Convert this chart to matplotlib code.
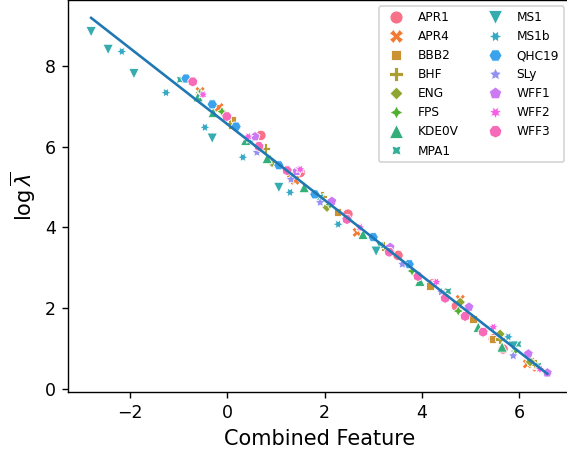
import numpy as np
import pandas as pd
import matplotlib
matplotlib.use("Agg")
import matplotlib.pyplot as plt
import seaborn as sns

eos_names = ["APR1", "APR4", "BBB2", "BHF", "ENG", "FPS", "KDE0V", "MPA1",
             "MS1", "MS1b", "QHC19", "SLy", "WFF1", "WFF2", "WFF3"]

# combined feature (x) and log lambda (y) for each EOS
feat = {
    "APR1": [0.69, 1.50, 2.48, 3.51, 4.21, 4.71, 5.47, 5.67],
    "APR4": [-0.56, -0.17, 1.39, 2.67, 4.79, 6.17, 6.37],
    "BBB2": [0.10, 1.29, 2.26, 4.17, 5.05, 5.45, 6.23],
    "BHF": [0.05, 0.78, 1.95, 3.20, 4.48, 5.61, 6.33],
    "ENG": [-0.05, 0.92, 2.05, 3.35, 4.79, 5.61, 6.23],
    "FPS": [-0.56, -0.11, 0.88, 2.11, 3.80, 4.75, 5.92],
    "KDE0V": [-0.60, -0.29, 0.38, 0.82, 1.58, 2.79, 3.96, 5.16, 5.65],
    "MPA1": [-0.97, 0.47, 1.91, 3.14, 4.54, 5.98, 6.39],
    "MS1": [-2.80, -2.45, -1.92, -0.31, 1.06, 3.06, 5.88],
    "MS1b": [-2.17, -1.26, -0.46, 0.32, 1.29, 2.28, 5.78],
    "QHC19": [-0.85, -0.31, 0.18, 1.06, 1.80, 3.00, 3.74],
    "SLy": [0.61, 1.31, 1.91, 2.73, 3.60, 4.40, 5.88],
    "WFF1": [0.57, 1.43, 2.15, 3.35, 4.97, 6.19, 6.58],
    "WFF2": [-0.50, 0.43, 1.50, 2.73, 4.30, 5.47, 6.43],
    "WFF3": [-0.71, -0.01, 0.65, 1.23, 2.46, 3.33, 3.92, 4.48, 4.89, 5.26],
}
loglam = {
    "APR1": [6.28, 5.36, 4.33, 3.31, 2.60, 2.05, 1.24, 0.99],
    "APR4": [7.37, 6.97, 5.17, 3.88, 2.22, 0.62, 0.54],
    "BBB2": [6.67, 5.32, 4.38, 2.55, 1.73, 1.24, 0.69],
    "BHF": [6.58, 5.96, 4.77, 3.54, 2.37, 1.24, 0.62],
    "ENG": [6.80, 5.61, 4.50, 3.41, 2.15, 1.36, 0.67],
    "FPS": [7.34, 6.87, 5.69, 4.57, 2.92, 1.93, 0.94],
    "KDE0V": [7.24, 6.85, 6.16, 5.71, 4.99, 3.83, 2.67, 1.53, 1.04],
    "MPA1": [7.66, 6.18, 4.75, 3.56, 2.42, 1.11, 0.57],
    "MS1": [8.85, 8.41, 7.81, 6.21, 4.99, 3.41, 1.06],
    "MS1b": [8.36, 7.34, 6.48, 5.74, 4.87, 4.08, 1.29],
    "QHC19": [7.69, 7.05, 6.50, 5.54, 4.82, 3.76, 3.09],
    "SLy": [5.86, 5.19, 4.62, 4.00, 3.09, 2.40, 0.82],
    "WFF1": [6.25, 5.39, 4.65, 3.51, 2.03, 0.87, 0.40],
    "WFF2": [7.29, 6.25, 5.44, 4.00, 2.65, 1.53, 0.49],
    "WFF3": [7.61, 6.75, 6.01, 5.41, 4.20, 3.39, 2.79, 2.25, 1.80, 1.41],
}

# fitted line
slope = -0.940
intercept = 6.56

rows = []
for e in eos_names:
    for a, b in zip(feat[e], loglam[e]):
        rows.append((e, a, b))
df = pd.DataFrame(rows, columns=["EOS", "feature", "loglam"])

fig = plt.figure(figsize=(567 / 125, 457 / 125), dpi=125)
ax = fig.add_axes([0.1205, 0.1431, 0.885, 0.8567])

sns.scatterplot(data=df, x="feature", y="loglam", hue="EOS", style="EOS",
                hue_order=eos_names, style_order=eos_names, ax=ax)

xx = np.linspace(df["feature"].min(), df["feature"].max(), 100)
ax.plot(xx, slope * xx + intercept)

ax.set_xlabel("Combined Feature", fontsize=12)
ax.set_ylabel(r"$\log\overline{\lambda}$", fontsize=12)
ax.legend(ncol=2, fontsize=7, markerscale=1.25, loc="upper right")

fig.savefig("out.png", dpi=125)
